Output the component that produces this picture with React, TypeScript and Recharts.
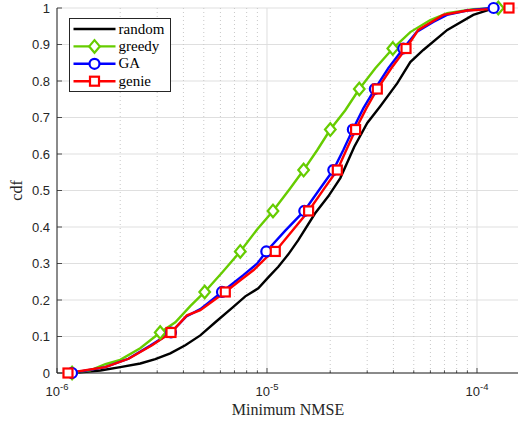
import React from "react";
import { LineChart, Line, XAxis, YAxis, ReferenceLine, Legend } from "recharts";

// x ticks (log axis)
const majorX = [1e-6, 1e-5, 1e-4];
const minorX = [
    2e-6, 3e-6, 4e-6, 5e-6, 6e-6, 7e-6, 8e-6, 9e-6,
    2e-5, 3e-5, 4e-5, 5e-5, 6e-5, 7e-5, 8e-5, 9e-5,
];
const yTicks = [0, 0.1, 0.2, 0.3, 0.4, 0.5, 0.6, 0.7, 0.8, 0.9, 1];
const xDomain = [1e-6, 1.585e-4];

// random
const randomX = [
    1.183e-6, 1.608e-6, 2.001e-6, 2.493e-6, 2.938e-6, 3.463e-6, 4.083e-6, 4.813e-6,
    5.674e-6, 6.912e-6, 7.882e-6, 9.09e-6, 1.014e-5, 1.132e-5, 1.263e-5, 1.409e-5,
    1.692e-5, 1.958e-5, 2.234e-5, 2.604e-5, 3.003e-5, 3.463e-5, 4.174e-5, 4.813e-5,
    5.551e-5, 7.221e-5, 9.6e-5, 1.157e-4, 1.364e-4,
];
const randomCdf = [
    0, 0.007, 0.016, 0.026, 0.038, 0.054, 0.076, 0.103,
    0.139, 0.181, 0.21, 0.232, 0.262, 0.291, 0.325, 0.364,
    0.437, 0.484, 0.534, 0.62, 0.685, 0.731, 0.794, 0.852,
    0.885, 0.94, 0.981, 0.996, 1,
];

// greedy
const greedyX = [
    1.18e-6, 1.44e-6, 1.7e-6, 2.0e-6, 2.49e-6, 3.1e-6, 3.66e-6, 4.31e-6, 5.05e-6,
    6.13e-6, 7.46e-6, 8.99e-6, 1.068e-5, 1.291e-5, 1.494e-5, 1.736e-5, 2.002e-5,
    2.36e-5, 2.751e-5, 3.28e-5, 3.972e-5, 4.813e-5, 5.994e-5, 7.221e-5, 9.6e-5, 1.263e-4,
];
const greedyCdf = [
    0, 0.007, 0.024, 0.036, 0.068, 0.111, 0.139, 0.183, 0.222,
    0.276, 0.333, 0.394, 0.444, 0.506, 0.556, 0.611, 0.667,
    0.72, 0.778, 0.835, 0.889, 0.934, 0.967, 0.986, 0.997, 1,
];
const greedyMarks = [0, 5, 8, 10, 12, 14, 16, 18, 20, 25];

// GA
const gaX = [
    1.179e-6, 1.698e-6, 2.185e-6, 2.782e-6, 3.49e-6, 4.128e-6, 4.813e-6, 6.105e-6,
    7.712e-6, 8.992e-6, 9.924e-6, 1.222e-5, 1.505e-5, 1.794e-5, 2.069e-5, 2.309e-5,
    2.563e-5, 2.875e-5, 3.262e-5, 3.781e-5, 4.457e-5, 5.18e-5, 6.193e-5, 7.196e-5,
    8.962e-5, 1.116e-4, 1.2e-4,
];
const gaCdf = [
    0, 0.016, 0.039, 0.075, 0.111, 0.155, 0.175, 0.222,
    0.268, 0.3, 0.333, 0.39, 0.444, 0.506, 0.556, 0.611,
    0.667, 0.725, 0.778, 0.835, 0.889, 0.935, 0.962, 0.981,
    0.993, 0.999, 1,
];
const gaMarks = [0, 4, 7, 10, 12, 14, 16, 18, 20, 26];

// genie
const genieX = [
    1.128e-6, 1.698e-6, 2.193e-6, 2.835e-6, 3.49e-6, 4.159e-6, 4.813e-6, 6.33e-6,
    7.464e-6, 8.635e-6, 1.0e-5, 1.095e-5, 1.32e-5, 1.578e-5, 1.875e-5, 2.162e-5,
    2.386e-5, 2.642e-5, 2.971e-5, 3.352e-5, 3.907e-5, 4.592e-5, 5.254e-5, 6.913e-5,
    8.99e-5, 1.157e-4, 1.42e-4,
];
const genieCdf = [
    0, 0.016, 0.039, 0.076, 0.111, 0.158, 0.172, 0.222,
    0.254, 0.282, 0.318, 0.333, 0.39, 0.444, 0.506, 0.556,
    0.611, 0.667, 0.725, 0.778, 0.835, 0.889, 0.94, 0.981,
    0.993, 0.997, 1,
];
const genieMarks = [0, 4, 7, 11, 13, 15, 17, 19, 21, 26];

const zip = (xs: number[], ys: number[]) => xs.map((x, i) => ({ x, y: ys[i] }));

type MarkerKind = "none" | "diamond" | "circle" | "square";

const series = [
    { name: "random", color: "#000000", data: zip(randomX, randomCdf), marks: [] as number[], marker: "none" as MarkerKind },
    { name: "greedy", color: "#66cc00", data: zip(greedyX, greedyCdf), marks: greedyMarks, marker: "diamond" as MarkerKind },
    { name: "GA", color: "#0000ff", data: zip(gaX, gaCdf), marks: gaMarks, marker: "circle" as MarkerKind },
    { name: "genie", color: "#ff0000", data: zip(genieX, genieCdf), marks: genieMarks, marker: "square" as MarkerKind },
];

const AXIS = "#262626";
const GRID = "#dfdfdf";
const GRID_MINOR = "#c8c8c8";
const SANS = "Liberation Sans, Arial, sans-serif";
const SERIF = "Liberation Serif, Times New Roman, serif";

function Marker({ kind, cx, cy, color }: { kind: MarkerKind; cx: number; cy: number; color: string }) {
    if (kind === "diamond") {
        const pts = `${cx},${cy - 6.3} ${cx + 5.3},${cy} ${cx},${cy + 6.3} ${cx - 5.3},${cy}`;
        return <polygon points={pts} fill="#fff" stroke={color} strokeWidth={2.2} />;
    }
    if (kind === "circle") return <circle cx={cx} cy={cy} r={5} fill="#fff" stroke={color} strokeWidth={2.2} />;
    if (kind === "square") return <rect x={cx - 4.5} y={cy - 4.5} width={9} height={9} fill="#fff" stroke={color} strokeWidth={2.2} />;
    return null;
}

const isMajor = (v: number) => majorX.includes(v);

function BottomTick(props: any) {
    const { x, y, payload } = props;
    const v = payload.value;
    const major = isMajor(v);
    return (
        <g>
            <line x1={x} x2={x} y1={y} y2={y - (major ? 5 : 2.7)} stroke={AXIS} strokeWidth={0.8} />
            {major && (
                <text x={x} y={y + 23} textAnchor="middle" fontFamily={SANS} fontSize={13} fill={AXIS}>
                    10<tspan dy={-6.5} fontSize={9.5}>{`-${Math.round(-Math.log10(v))}`}</tspan>
                </text>
            )}
        </g>
    );
}

function TopTick(props: any) {
    const { x, y, payload } = props;
    const major = isMajor(payload.value);
    return <line x1={x} x2={x} y1={y} y2={y + (major ? 5 : 2.7)} stroke={AXIS} strokeWidth={0.8} />;
}

function LeftTick(props: any) {
    const { x, y, payload } = props;
    return (
        <g>
            <line x1={x} x2={x + 5} y1={y} y2={y} stroke={AXIS} strokeWidth={0.8} />
            <text x={x - 7} y={y + 4.6} textAnchor="end" fontFamily={SANS} fontSize={13} fill={AXIS}>
                {String(payload.value)}
            </text>
        </g>
    );
}

function RightTick(props: any) {
    const { x, y } = props;
    return <line x1={x} x2={x - 5} y1={y} y2={y} stroke={AXIS} strokeWidth={0.8} />;
}

function LegendBox() {
    return (
        <svg width={102} height={75} style={{ display: "block" }}>
            <rect x={0.5} y={0.5} width={101} height={73} fill="#fff" stroke={AXIS} strokeWidth={1} />
            {series.map((s, i) => {
                const cy = 11 + i * 17.4;
                return (
                    <g key={s.name}>
                        <line x1={4.5} x2={46.5} y1={cy} y2={cy} stroke={s.color} strokeWidth={2.4} />
                        <Marker kind={s.marker} cx={25.5} cy={cy} color={s.color} />
                        <text x={49.5} y={cy + 4.5} fontFamily={SERIF} fontSize={15} fill="#000">
                            {s.name}
                        </text>
                    </g>
                );
            })}
        </svg>
    );
}

export default function App() {
    return (
        <div style={{ position: "fixed", left: 0, top: 0, width: 518, height: 423, overflow: "hidden", background: "#fff" }}>
            <LineChart width={530} height={423} margin={{ top: 8, right: 10, bottom: 0, left: 0 }}>
                {/* grid */}
                {yTicks.map((v) => (
                    <ReferenceLine key={`gy-${v}`} y={v} stroke={GRID} strokeWidth={1} />
                ))}
                {minorX.map((v) => (
                    <ReferenceLine key={`gmx-${v}`} x={v} stroke={GRID_MINOR} strokeWidth={1} strokeDasharray="1 3" />
                ))}
                {majorX.map((v) => (
                    <ReferenceLine key={`gx-${v}`} x={v} stroke={GRID} strokeWidth={1} />
                ))}
                <XAxis
                    dataKey="x"
                    type="number"
                    scale="log"
                    domain={xDomain}
                    allowDataOverflow
                    ticks={[...majorX, ...minorX]}
                    interval={0}
                    tickSize={0}
                    tickMargin={0}
                    tickLine={false}
                    axisLine={{ stroke: AXIS }}
                    height={50}
                    tick={BottomTick}
                    label={{
                        position: "insideBottom",
                        content: ({ viewBox }: any) => (
                            <text x={viewBox.x + viewBox.width / 2} y={415} textAnchor="middle" fontFamily={SERIF} fontSize={16} fill={AXIS}>
                                Minimum NMSE
                            </text>
                        ),
                    }}
                />
                <XAxis
                    xAxisId="top"
                    orientation="top"
                    type="number"
                    scale="log"
                    domain={xDomain}
                    allowDataOverflow
                    ticks={[...majorX, ...minorX]}
                    interval={0}
                    tickSize={0}
                    tickMargin={0}
                    tickLine={false}
                    axisLine={{ stroke: AXIS }}
                    height={0}
                    tick={TopTick}
                />
                <YAxis
                    type="number"
                    domain={[0, 1]}
                    ticks={yTicks}
                    interval={0}
                    tickSize={0}
                    tickMargin={0}
                    tickLine={false}
                    axisLine={{ stroke: AXIS }}
                    width={57}
                    tick={LeftTick}
                    label={{
                        position: "insideLeft",
                        content: ({ viewBox }: any) => {
                            const cx = 21.5;
                            const cy = viewBox.y + viewBox.height / 2;
                            return (
                                <text x={cx} y={cy} transform={`rotate(-90 ${cx} ${cy})`} textAnchor="middle" fontFamily={SERIF} fontSize={16} fill={AXIS}>
                                    cdf
                                </text>
                            );
                        },
                    }}
                />
                <YAxis
                    yAxisId="right"
                    orientation="right"
                    type="number"
                    domain={[0, 1]}
                    ticks={yTicks}
                    interval={0}
                    tickSize={0}
                    tickMargin={0}
                    tickLine={false}
                    axisLine={{ stroke: AXIS }}
                    width={1}
                    tick={RightTick}
                />
                {series.map((s) => (
                    <Line
                        key={s.name}
                        data={s.data}
                        dataKey="y"
                        name={s.name}
                        type="linear"
                        stroke={s.color}
                        strokeWidth={2.4}
                        isAnimationActive={false}
                        activeDot={false}
                        dot={(p: any) =>
                            s.marks.includes(p.index) ? (
                                <Marker key={`${s.name}-${p.index}`} kind={s.marker} cx={p.cx} cy={p.cy} color={s.color} />
                            ) : (
                                <g key={`${s.name}-${p.index}`} />
                            )
                        }
                    />
                ))}
                <Legend
                    layout="horizontal"
                    verticalAlign="middle"
                    align="center"
                    wrapperStyle={{ left: 69, top: 18, width: 102, height: 75 }}
                    content={() => <LegendBox />}
                />
            </LineChart>
        </div>
    );
}
